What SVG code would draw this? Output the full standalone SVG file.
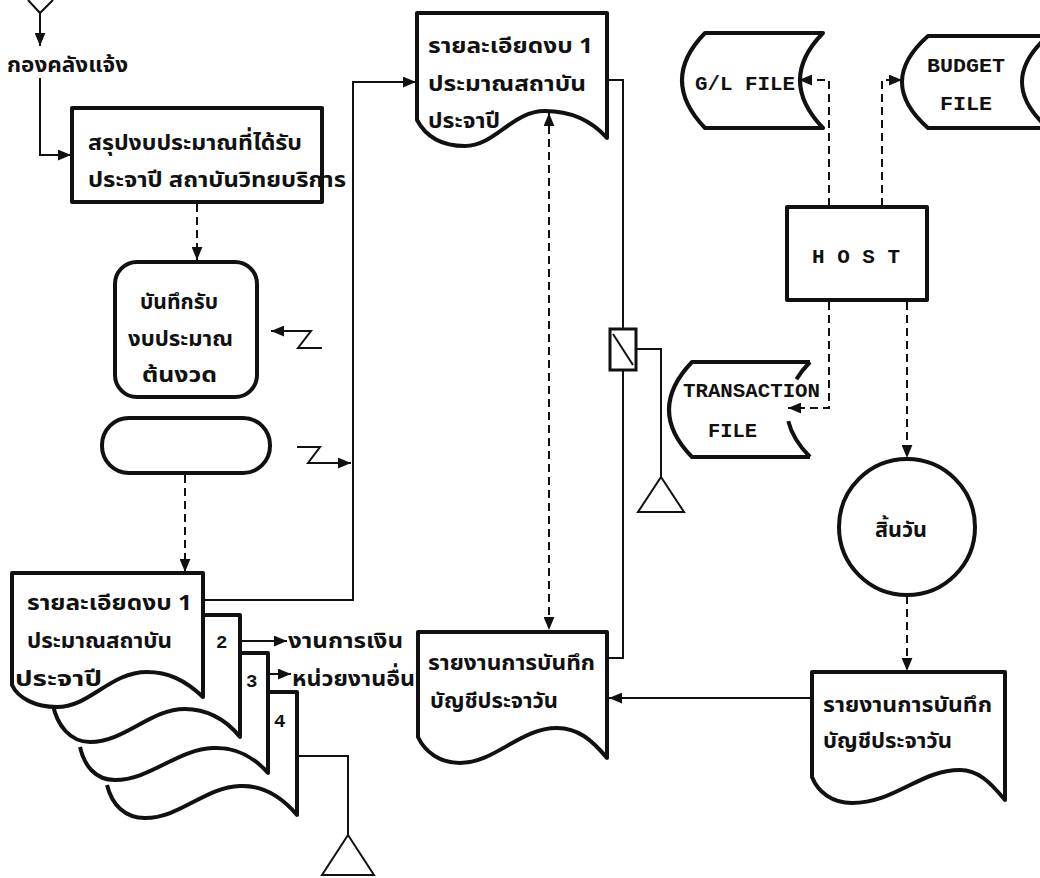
<svg xmlns="http://www.w3.org/2000/svg" width="1040" height="878" viewBox="0 0 1040 878">
  <style>
    .shape { fill: #fff; stroke: #111; stroke-width: 4; stroke-linejoin: round; }
    .thin { fill: #fff; stroke: #111; stroke-width: 2; }
    .line { fill: none; stroke: #111; stroke-width: 2; }
    .dash { fill: none; stroke: #111; stroke-width: 2; stroke-dasharray: 8 5; }
    .th { font-family: "Noto Sans Thai", "Loma", "Garuda", "Noto Sans", sans-serif; font-size: 22px; font-weight: bold; fill: #111; }
    .mono { font-family: "Liberation Mono", "DejaVu Sans Mono", monospace; font-size: 20px; font-weight: bold; fill: #111; }
    .num { font-family: "Liberation Mono", monospace; font-size: 19px; font-weight: bold; fill: #111; }
  </style>
  <defs>
    <marker id="arrow" viewBox="0 0 12 10" refX="12" refY="5" markerWidth="13" markerHeight="11" markerUnits="userSpaceOnUse" orient="auto-start-reverse">
      <path d="M0,0 L12,5 L0,10 Z" fill="#111"/>
    </marker>
  </defs>
  <rect width="1040" height="878" fill="#fff"/>

  <!-- off-page connector at top (only its lower point is in view) -->
  <g id="offpage-top">
    <path class="line" d="M28,0 L40,13 L53,0" stroke-width="3"/>
  </g>

  <g id="label-treasury">
    <text class="th" x="7" y="72" textLength="121" lengthAdjust="spacingAndGlyphs">กองคลังแจ้ง</text>
  </g>

  <!-- summary process box -->
  <g id="summary-box">
    <rect class="shape" x="72" y="108" width="250" height="94"/>
    <text class="th" x="88" y="150" textLength="214" lengthAdjust="spacingAndGlyphs">สรุปงบประมาณที่ได้รับ</text>
    <text class="th" x="88" y="187" textLength="258" lengthAdjust="spacingAndGlyphs">ประจาปี สถาบันวิทยบริการ</text>
  </g>

  <!-- manual entry -->
  <g id="record-budget">
    <rect class="shape" x="115" y="262" width="142" height="135" rx="22"/>
    <text class="th" x="140" y="309" textLength="78" lengthAdjust="spacingAndGlyphs">บันทึกรับ</text>
    <text class="th" x="128" y="346" textLength="105" lengthAdjust="spacingAndGlyphs">งบประมาณ</text>
    <text class="th" x="142" y="382" textLength="75" lengthAdjust="spacingAndGlyphs">ต้นงวด</text>
  </g>

  <!-- terminal -->
  <g id="terminal">
    <rect class="shape" x="102" y="418" width="168" height="55" rx="27"/>
  </g>

  <!-- stacked output documents 1-4 -->
  <g id="doc-stack">
    <path class="shape" d="M107,692 L297,692 L297,815 C280,795 262,785 240,786 C205,787 180,818 145,818 C125,818 112,805 107,785"/>
    <text class="num" x="274" y="727">4</text>
    <path class="shape" d="M80,653 L268,653 L268,773 C252,755 235,747 213,748 C178,749 150,780 115,780 C95,780 84,765 80,747"/>
    <text class="num" x="246" y="687">3</text>
    <path class="shape" d="M53,615 L240,615 L240,737 C225,718 205,709 185,709 C150,709 125,742 90,742 C70,742 57,725 53,705"/>
    <text class="num" x="216" y="648">2</text>
    <path class="shape" d="M12,573 L203,573 L203,697 C185,680 168,672 147,672 C110,672 90,707 57,707 C35,707 18,698 12,685 Z"/>
    <text class="th" x="27" y="610" textLength="165" lengthAdjust="spacingAndGlyphs">รายละเอียดงบ 1</text>
    <text class="th" x="27" y="648" textLength="145" lengthAdjust="spacingAndGlyphs">ประมาณสถาบัน</text>
    <text class="th" x="15" y="686" textLength="87" lengthAdjust="spacingAndGlyphs">ประจาปี</text>
  </g>

  <g id="label-finance">
    <text class="th" x="288" y="648" textLength="115" lengthAdjust="spacingAndGlyphs">งานการเงิน</text>
  </g>
  <g id="label-other-units">
    <text class="th" x="292" y="686" textLength="123" lengthAdjust="spacingAndGlyphs">หน่วยงานอื่น</text>
  </g>

  <!-- budget detail document (top) -->
  <g id="doc-budget-detail">
    <path class="shape" d="M417,120 L417,13 L607,13 L607,138 C590,119 570,111 545,111 C512,111 495,146 465,146 C440,146 425,135 417,120 Z"/>
    <text class="th" x="428" y="53" textLength="165" lengthAdjust="spacingAndGlyphs">รายละเอียดงบ 1</text>
    <text class="th" x="428" y="91" textLength="158" lengthAdjust="spacingAndGlyphs">ประมาณสถาบัน</text>
    <text class="th" x="428" y="128" textLength="72" lengthAdjust="spacingAndGlyphs">ประจาปี</text>
  </g>

  <!-- daily posting report (middle) -->
  <g id="doc-daily-report-mid">
    <path class="shape" d="M418,737 L418,632 L607,632 L607,758 C592,740 578,728 557,728 C520,728 495,763 460,763 C440,763 425,752 418,737 Z"/>
    <text class="th" x="428" y="670" textLength="167" lengthAdjust="spacingAndGlyphs">รายงานการบันทึก</text>
    <text class="th" x="430" y="708" textLength="128" lengthAdjust="spacingAndGlyphs">บัญชีประจาวัน</text>
  </g>

  <!-- daily posting report (right) -->
  <g id="doc-daily-report-right">
    <path class="shape" d="M812,777 L812,672 L1005,672 L1005,800 C990,782 978,770 960,770 C920,770 895,803 852,803 C832,803 818,792 812,777 Z"/>
    <text class="th" x="823" y="712" textLength="169" lengthAdjust="spacingAndGlyphs">รายงานการบันทึก</text>
    <text class="th" x="823" y="748" textLength="129" lengthAdjust="spacingAndGlyphs">บัญชีประจาวัน</text>
  </g>

  <!-- stored data files -->
  <g id="file-gl">
    <path class="shape" d="M705,33 L823,33 Q777,80 823,128 L705,128 Q659,80 705,33 Z"/>
    <text class="mono" x="695" y="90" textLength="100" lengthAdjust="spacingAndGlyphs">G/L FILE</text>
  </g>
  <g id="file-budget">
    <path class="shape" d="M928,36 L1048,36 Q996,82 1048,128 L928,128 Q876,82 928,36 Z"/>
    <text class="mono" x="927" y="72" textLength="78" lengthAdjust="spacingAndGlyphs">BUDGET</text>
    <text class="mono" x="940" y="110" textLength="52" lengthAdjust="spacingAndGlyphs">FILE</text>
  </g>
  <g id="file-transaction">
    <path class="shape" d="M810,362 L692,362 Q646,410 692,457 L810,457"/>
    <path class="shape" fill="none" d="M810,362 Q801.7,370.6 796.4,379.2"/>
    <path class="shape" fill="none" d="M788.3,421.1 Q792.5,439.1 810,457"/>
    <text class="mono" x="683" y="397" textLength="137" lengthAdjust="spacingAndGlyphs">TRANSACTION</text>
    <text class="mono" x="708" y="437" textLength="49" lengthAdjust="spacingAndGlyphs">FILE</text>
  </g>

  <g id="host">
    <rect class="shape" x="787" y="207" width="140" height="93"/>
    <text class="mono" x="812" y="263" textLength="88" lengthAdjust="spacingAndGlyphs">H O S T</text>
  </g>

  <g id="end-of-day">
    <circle class="shape" cx="907" cy="527" r="68" stroke-width="3.5"/>
    <text class="th" x="875" y="537" textLength="52" lengthAdjust="spacingAndGlyphs">สิ้นวัน</text>
  </g>

  <!-- offline storage triangles -->
  <g id="storage-right">
    <polygon class="thin" points="661,477 638,512 684,512"/>
  </g>
  <g id="storage-bottom">
    <polygon class="thin" points="348,835 322,875 374,875"/>
  </g>

  <g id="connectors">
    <path class="line" d="M40,13 L40,46" marker-end="url(#arrow)"/>
    <path class="line" d="M40,78 L40,155 L71,155" marker-end="url(#arrow)"/>
    <path class="dash" d="M197,204 L197,260" marker-end="url(#arrow)"/>
    <path class="line" d="M322,348 L298,348 L311,331 L271,331" marker-end="url(#arrow)"/>
    <path class="line" d="M297,447 L320,447 L308,463 L351,463" marker-end="url(#arrow)"/>
    <path class="dash" d="M185,475 L185,572" marker-end="url(#arrow)"/>
    <path class="line" d="M203,600 L353,600 L353,82 L416,82" marker-end="url(#arrow)"/>
    <path class="line" d="M240,641 L287,641" marker-end="url(#arrow)"/>
    <path class="line" d="M268,674 L291,674" marker-end="url(#arrow)"/>
    <path class="line" d="M297,756 L348,756 L348,835"/>
    <path class="line" d="M607,80 L623,80 L623,658 L607,658"/>
    <path class="line" d="M636,349 L661,349 L661,477"/>
    <path class="dash" d="M549,113 L549,630" marker-start="url(#arrow)" marker-end="url(#arrow)"/>
    <path class="line" d="M812,698 L609,698" marker-end="url(#arrow)"/>
    <path class="dash" d="M907,302 L907,458" marker-end="url(#arrow)"/>
    <path class="dash" d="M907,596 L907,671" marker-end="url(#arrow)"/>
    <path class="dash" d="M829,206 L829,80 L799,80" marker-end="url(#arrow)"/>
    <path class="dash" d="M882,206 L882,80 L902,80" marker-end="url(#arrow)"/>
    <path class="dash" d="M829,302 L829,408 L788,408" marker-end="url(#arrow)"/>
  </g>

  <!-- collate symbol on the line to the right of the top document -->
  <g id="collate">
    <rect x="610" y="329" width="26" height="41" fill="#fff" stroke="#111" stroke-width="3"/>
    <path class="line" d="M613,334 L633,365"/>
  </g>
</svg>
